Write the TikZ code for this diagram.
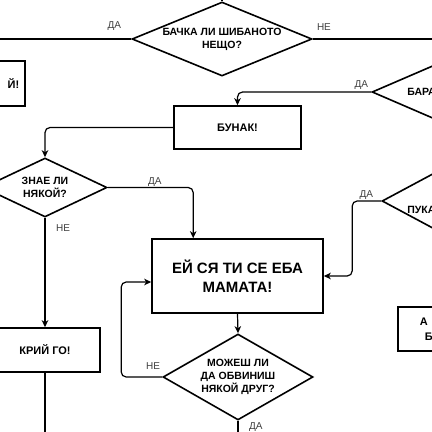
\documentclass[tikz,border=0pt]{standalone}
\usepackage{fontspec}
\setmainfont{Liberation Sans}
\usepackage{xcolor}
\usepackage{tikz}
\usetikzlibrary{positioning, arrows.meta, shapes.geometric}
\definecolor{lblgray}{HTML}{404040}
\tikzset{
  box/.style={draw, rectangle, line width=1.6pt, inner sep=0pt, align=center, font=\bfseries\fontsize{11}{15}\selectfont},
  dia/.style={draw, diamond, aspect=2.4, line width=1.6pt, inner sep=0pt, align=center, font=\bfseries\fontsize{10.5}{13}\selectfont},
  dtext/.style={inner sep=0pt, font=\bfseries\fontsize{10.5}{13}\selectfont},
  conn/.style={line width=1.2pt, rounded corners=5pt},
  arr/.style={conn, -{Stealth[length=7pt, width=6.5pt, inset=2pt]}},
  lbl/.style={inner sep=0pt, text=lblgray, font=\fontsize{10}{12}\selectfont}
}

\begin{document}
\begin{tikzpicture}[x=1pt, y=-1pt]
\useasboundingbox (0,0) rectangle (432,432);
\clip (0,0) rectangle (432,432);
\node[dia, minimum width=180pt, minimum height=74pt](Bachka) at (222,39){БАЧКА ЛИ ШИБАНОТО\\НЕЩО?};
\node[box, anchor=east, minimum height=45pt, text width=50pt, align=right, inner xsep=6pt](Izhod) at (26,83.5){Й!};
\node[box, minimum width=127pt, minimum height=43pt](Bunak) at (237.5,127.5){БУНАК!};
\node[dia, minimum width=180pt, minimum height=78pt](Bara) at (462,92){};
\node[dtext, right = 36pt of Bara.west]{БАРА};
\node[dia, aspect=2.1, minimum width=124pt, minimum height=59pt](ZnaeLi) at (45,187.5){ЗНАЕ ЛИ\\НЯКОЙ?};
\node[dia, minimum width=160pt, minimum height=86pt](Puka) at (462,201){};
\node[dtext, right = 26pt of Puka.west, yshift=-9pt]{ПУКА};
\node[box, minimum width=171pt, minimum height=74pt, font=\bfseries\fontsize{15}{19}\selectfont](Ej) at (237.5,276){ЕЙ СЯ ТИ СЕ ЕБА\\МАМАТА!};
\node[dia, aspect=1.74, minimum width=150pt, minimum height=86pt](Mozhesh) at (238,377){МОЖЕШ ЛИ\\ДА ОБВИНИШ\\НЯКОЙ ДРУГ?};
\node[box, minimum width=110pt, minimum height=44pt](Kriy) at (45,350){КРИЙ ГО!};
\node[box, anchor=west, minimum height=44pt, text width=60pt, align=left, inner xsep=22pt](AB) at (397,329){А\\\hspace*{5pt}Б};
\coordinate(TopIn) at (222,-5);
\coordinate(LeftOut) at (-5,39);
\coordinate(RightOut) at (440,39);
\coordinate(KriyOut) at (45,440);
\coordinate(MozheshOut) at (238,440);
\draw[conn] (TopIn) -- (Bachka.north);
\draw[conn] (Bachka.west) -- (LeftOut);
\draw[conn] (Bachka.east) -- (RightOut);
\draw[arr] (Bara.west) -| (Bunak.north);
\draw[arr] (Bunak.west) -| (ZnaeLi.north);
\draw[arr] (ZnaeLi.east) -| ([xshift=42pt]Ej.north west);
\draw[arr] (ZnaeLi.south) -- (Kriy.north);
\draw[arr] (Puka.west) -- ++(-29,0) |- (Ej.east);
\draw[arr] (Ej.south) -- (Mozhesh.north);
\draw[arr] (Mozhesh.west) -- ++(-41,0) |- ([yshift=-6pt]Ej.west);
\draw[conn] (Mozhesh.south) -- (MozheshOut);
\draw[conn] (Kriy.south) -- (KriyOut);
\node[lbl, above left = 8pt and 10pt of Bachka.west]{ДА};
\node[lbl, above right = 8pt and 4pt of Bachka.east]{НЕ};
\node[lbl, above left = 2pt and 3pt of Bara.west]{ДА};
\node[lbl, above right = 1pt and 40pt of ZnaeLi.east]{ДА};
\node[lbl, below right = 7pt and 11pt of ZnaeLi.south]{НЕ};
\node[lbl, above left = 1pt and 8pt of Puka.west]{ДА};
\node[lbl, above left = 7pt and 2pt of Mozhesh.west]{НЕ};
\node[lbl, below right = 2pt and 11pt of Mozhesh.south]{ДА};
\end{tikzpicture}
\end{document}
